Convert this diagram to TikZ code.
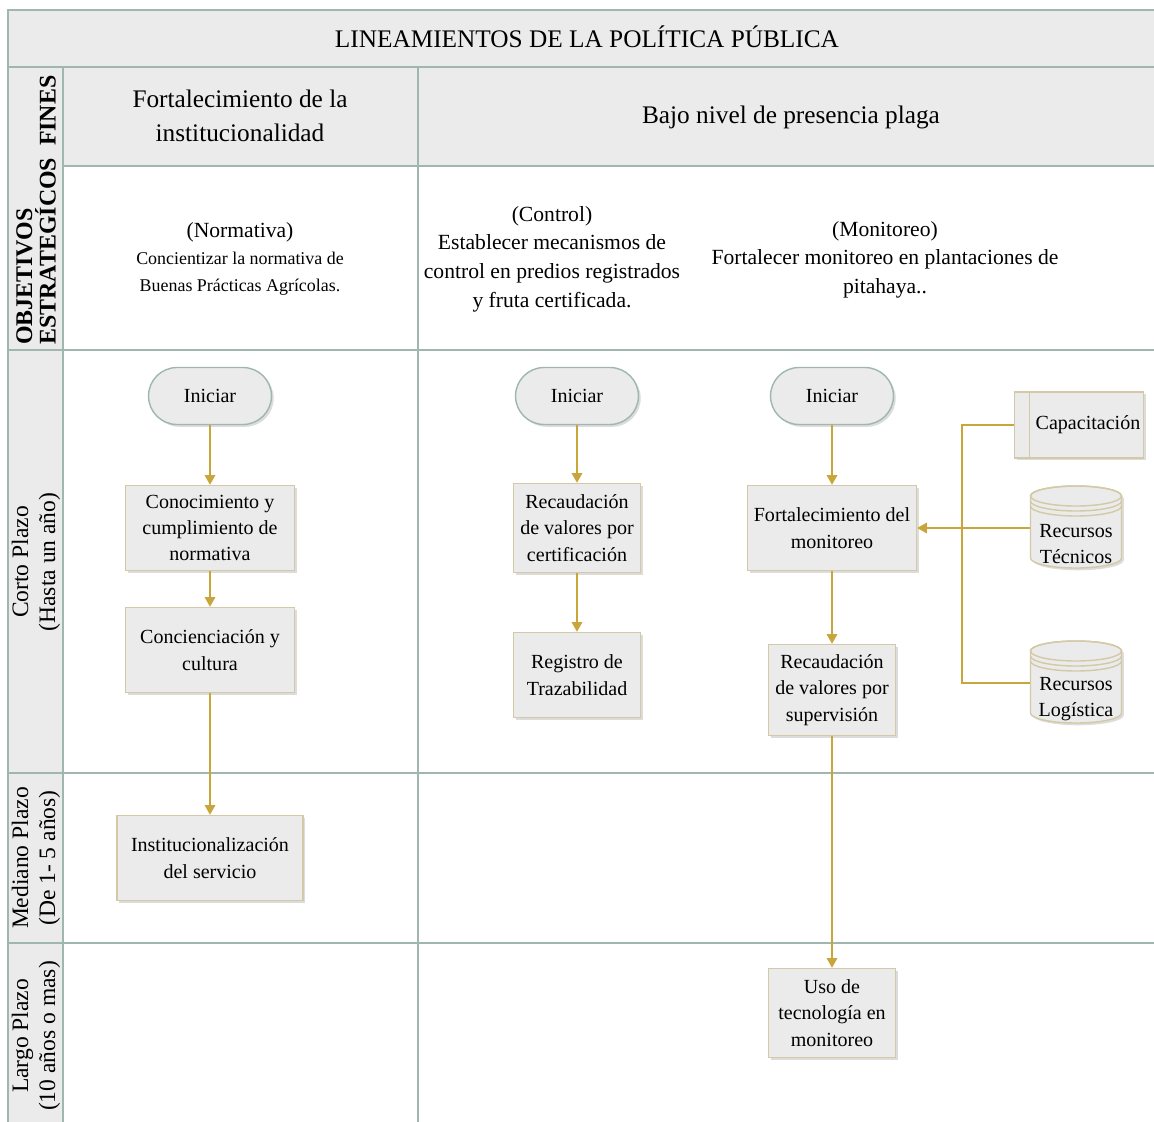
\documentclass[tikz,border=0pt]{standalone}
\usepackage{fontspec}
\setmainfont{Liberation Serif}
\usetikzlibrary{arrows.meta,positioning,shapes.misc,shadows,calc}
\definecolor{gridgreen}{HTML}{9FB7AD}
\definecolor{cellgray}{HTML}{EBEBEB}
\definecolor{boxtan}{HTML}{D3C9A6}
\definecolor{flowgold}{HTML}{C9A63C}

\tikzset{
  grid/.style={draw=gridgreen,line width=1.1pt},
  proc/.style={draw=boxtan,line width=0.8pt,fill=cellgray,align=center,inner sep=2pt,
    font=\fontsize{11.4}{15}\selectfont,
    drop shadow={shadow xshift=1.3pt,shadow yshift=-1.3pt,opacity=0.3,fill=black!45}},
  startbox/.style={proc,rounded rectangle,draw=gridgreen,minimum width=2.6cm,minimum height=1.14cm},
  dbnode/.style={align=center,inner sep=0pt,minimum width=1.82cm,minimum height=1.64cm,
    font=\fontsize{11.4}{15}\selectfont},
  link/.style={draw=flowgold,line width=0.9pt},
  flow/.style={link,-{Triangle[width=6pt,length=5.5pt]}},
  lane/.style={rotate=90,align=center,font=\fontsize{13.4}{15.3}\selectfont}
}

\begin{document}
\begin{tikzpicture}[x=0.02cm,y=-0.02cm]
  \useasboundingbox (0,0) rectangle (1154,1122);

  % bandas grises
  \fill[cellgray] (8,10) rectangle (1154,67);
  \fill[cellgray] (63,67) rectangle (1154,166);
  \fill[cellgray] (8,67) rectangle (63,1122);

  % lineas de la tabla
  \draw[grid] (8,1122) -- (8,10) -- (1154,10);
  \draw[grid] (8,67) -- (1154,67);
  \draw[grid] (63,166) -- (1154,166);
  \foreach \yy in {350,773,943} \draw[grid] (8,\yy) -- (1154,\yy);
  \draw[grid] (63,67) -- (63,1122);
  \draw[grid] (418,67) -- (418,1122);

  % encabezados
  \node[font=\fontsize{14.4}{19}\selectfont] (titulo) at (587,37) {LINEAMIENTOS DE LA POLÍTICA PÚBLICA};
  \node[align=center,font=\fontsize{14.4}{19.3}\selectfont] (fin1) at (240,116) {Fortalecimiento de la\\institucionalidad};
  \node[font=\fontsize{14.4}{19.3}\selectfont] (fin2) at (791,117) {Bajo nivel de presencia plaga};
  \node[rotate=90,anchor=west,align=left,inner sep=0pt,font=\bfseries\fontsize{13.6}{13.4}\selectfont]
    (objfin) at (36,345) {OBJETIVOS\\ESTRATEGÍCOS\ \ FINES};

  % objetivos
  \node[align=center,font=\fontsize{10.2}{15.5}\selectfont] (obj1) at (240,259)
    {{\fontsize{12.3}{15.5}\selectfont (Normativa)}\\Concientizar la normativa de\\Buenas Prácticas Agrícolas.};
  \node[align=center,font=\fontsize{12.3}{16.3}\selectfont] (obj2) at (552,259)
    {(Control)\\Establecer mecanismos de\\control en predios registrados\\y fruta certificada.};
  \node[align=center,font=\fontsize{12.3}{16.2}\selectfont] (obj3) at (885,259.5)
    {(Monitoreo)\\Fortalecer monitoreo en plantaciones de\\pitahaya..};

  % plazos
  \node[lane] (corto) at (36,562) {Corto Plazo\\(Hasta un año)};
  \node[lane] (mediano) at (36,858) {Mediano Plazo\\(De 1- 5 años)};
  \node[lane] (largo) at (36,1036) {Largo Plazo\\(10 años o mas)};

  % normativa
  \node[startbox] (ini1) at (210,396) {Iniciar};
  \node[proc,minimum width=3.38cm,minimum height=1.7cm] (con1) at (210,528) {Conocimiento y\\cumplimiento de\\normativa};
  \node[proc,minimum width=3.38cm,minimum height=1.7cm] (con2) at (210,650) {Concienciación y\\cultura};
  \node[proc,minimum width=3.72cm,minimum height=1.7cm] (ins) at (210,858) {Institucionalización\\del servicio};

  % control
  \node[startbox] (ini2) at (577,396) {Iniciar};
  \node[proc,minimum width=2.54cm,minimum height=1.78cm] (rec1) at (577,528) {Recaudación\\de valores por\\certificación};
  \node[proc,minimum width=2.54cm,minimum height=1.7cm] (reg) at (577,675) {Registro de\\Trazabilidad};

  % monitoreo
  \node[startbox] (ini3) at (832,396) {Iniciar};
  \node[proc,minimum width=3.38cm,minimum height=1.7cm] (fort) at (832,528) {Fortalecimiento del\\monitoreo};
  \node[proc,minimum width=2.54cm,minimum height=1.82cm] (recs) at (832,690) {Recaudación\\de valores por\\supervisión};
  \node[proc,minimum width=2.54cm,minimum height=1.78cm] (uso) at (832,1013) {Uso de\\tecnología en\\monitoreo};

  % recursos
  \node[proc,minimum width=2.56cm,minimum height=1.32cm] (cap) at (1079,425) {\hspace*{0.36cm}Capacitación};
  \draw[boxtan,line width=0.8pt] ($(cap.north west)+(16,0)$) -- ($(cap.south west)+(16,0)$);
  \foreach \cx/\cy in {1076/528,1076/683} {
    \filldraw[boxtan,fill=cellgray,line width=0.8pt,
      drop shadow={shadow xshift=1.3pt,shadow yshift=-1.3pt,opacity=0.3,fill=black!45}]
      (\cx-45.5,\cy-32) -- (\cx-45.5,\cy+30)
      arc[start angle=180,end angle=360,x radius=0.91cm,y radius=0.2cm]
      -- (\cx+45.5,\cy-32)
      arc[start angle=0,end angle=180,x radius=0.91cm,y radius=0.2cm] -- cycle;
    \draw[boxtan,line width=0.8pt] (\cx,\cy-32) ellipse[x radius=0.91cm,y radius=0.2cm];
    \draw[boxtan,line width=0.8pt] (\cx-45.5,\cy-27) arc[start angle=180,end angle=360,x radius=0.91cm,y radius=0.2cm];
    \draw[boxtan,line width=0.8pt] (\cx-45.5,\cy-22) arc[start angle=180,end angle=360,x radius=0.91cm,y radius=0.2cm];
  }
  \node[dbnode] (tec) at (1076,528) {\mbox{}\\[11pt]Recursos\\Técnicos};
  \node[dbnode] (log) at (1076,683) {\mbox{}\\[11pt]Recursos\\Logística};

  % conectores
  \draw[flow] (ini1) -- (con1);
  \draw[flow] (con1) -- (con2);
  \draw[flow] (con2) -- (ins);
  \draw[flow] (ini2) -- (rec1);
  \draw[flow] (rec1) -- (reg);
  \draw[flow] (ini3) -- (fort);
  \draw[flow] (fort) -- (recs);
  \draw[flow] (recs) -- (uso);
  \coordinate (jn) at (962,528);
  \draw[link] (cap.west) -| (jn);
  \draw[link] (log.west) -| (jn);
  \draw[flow] (tec.west) -- (fort.east);
\end{tikzpicture}
\end{document}
